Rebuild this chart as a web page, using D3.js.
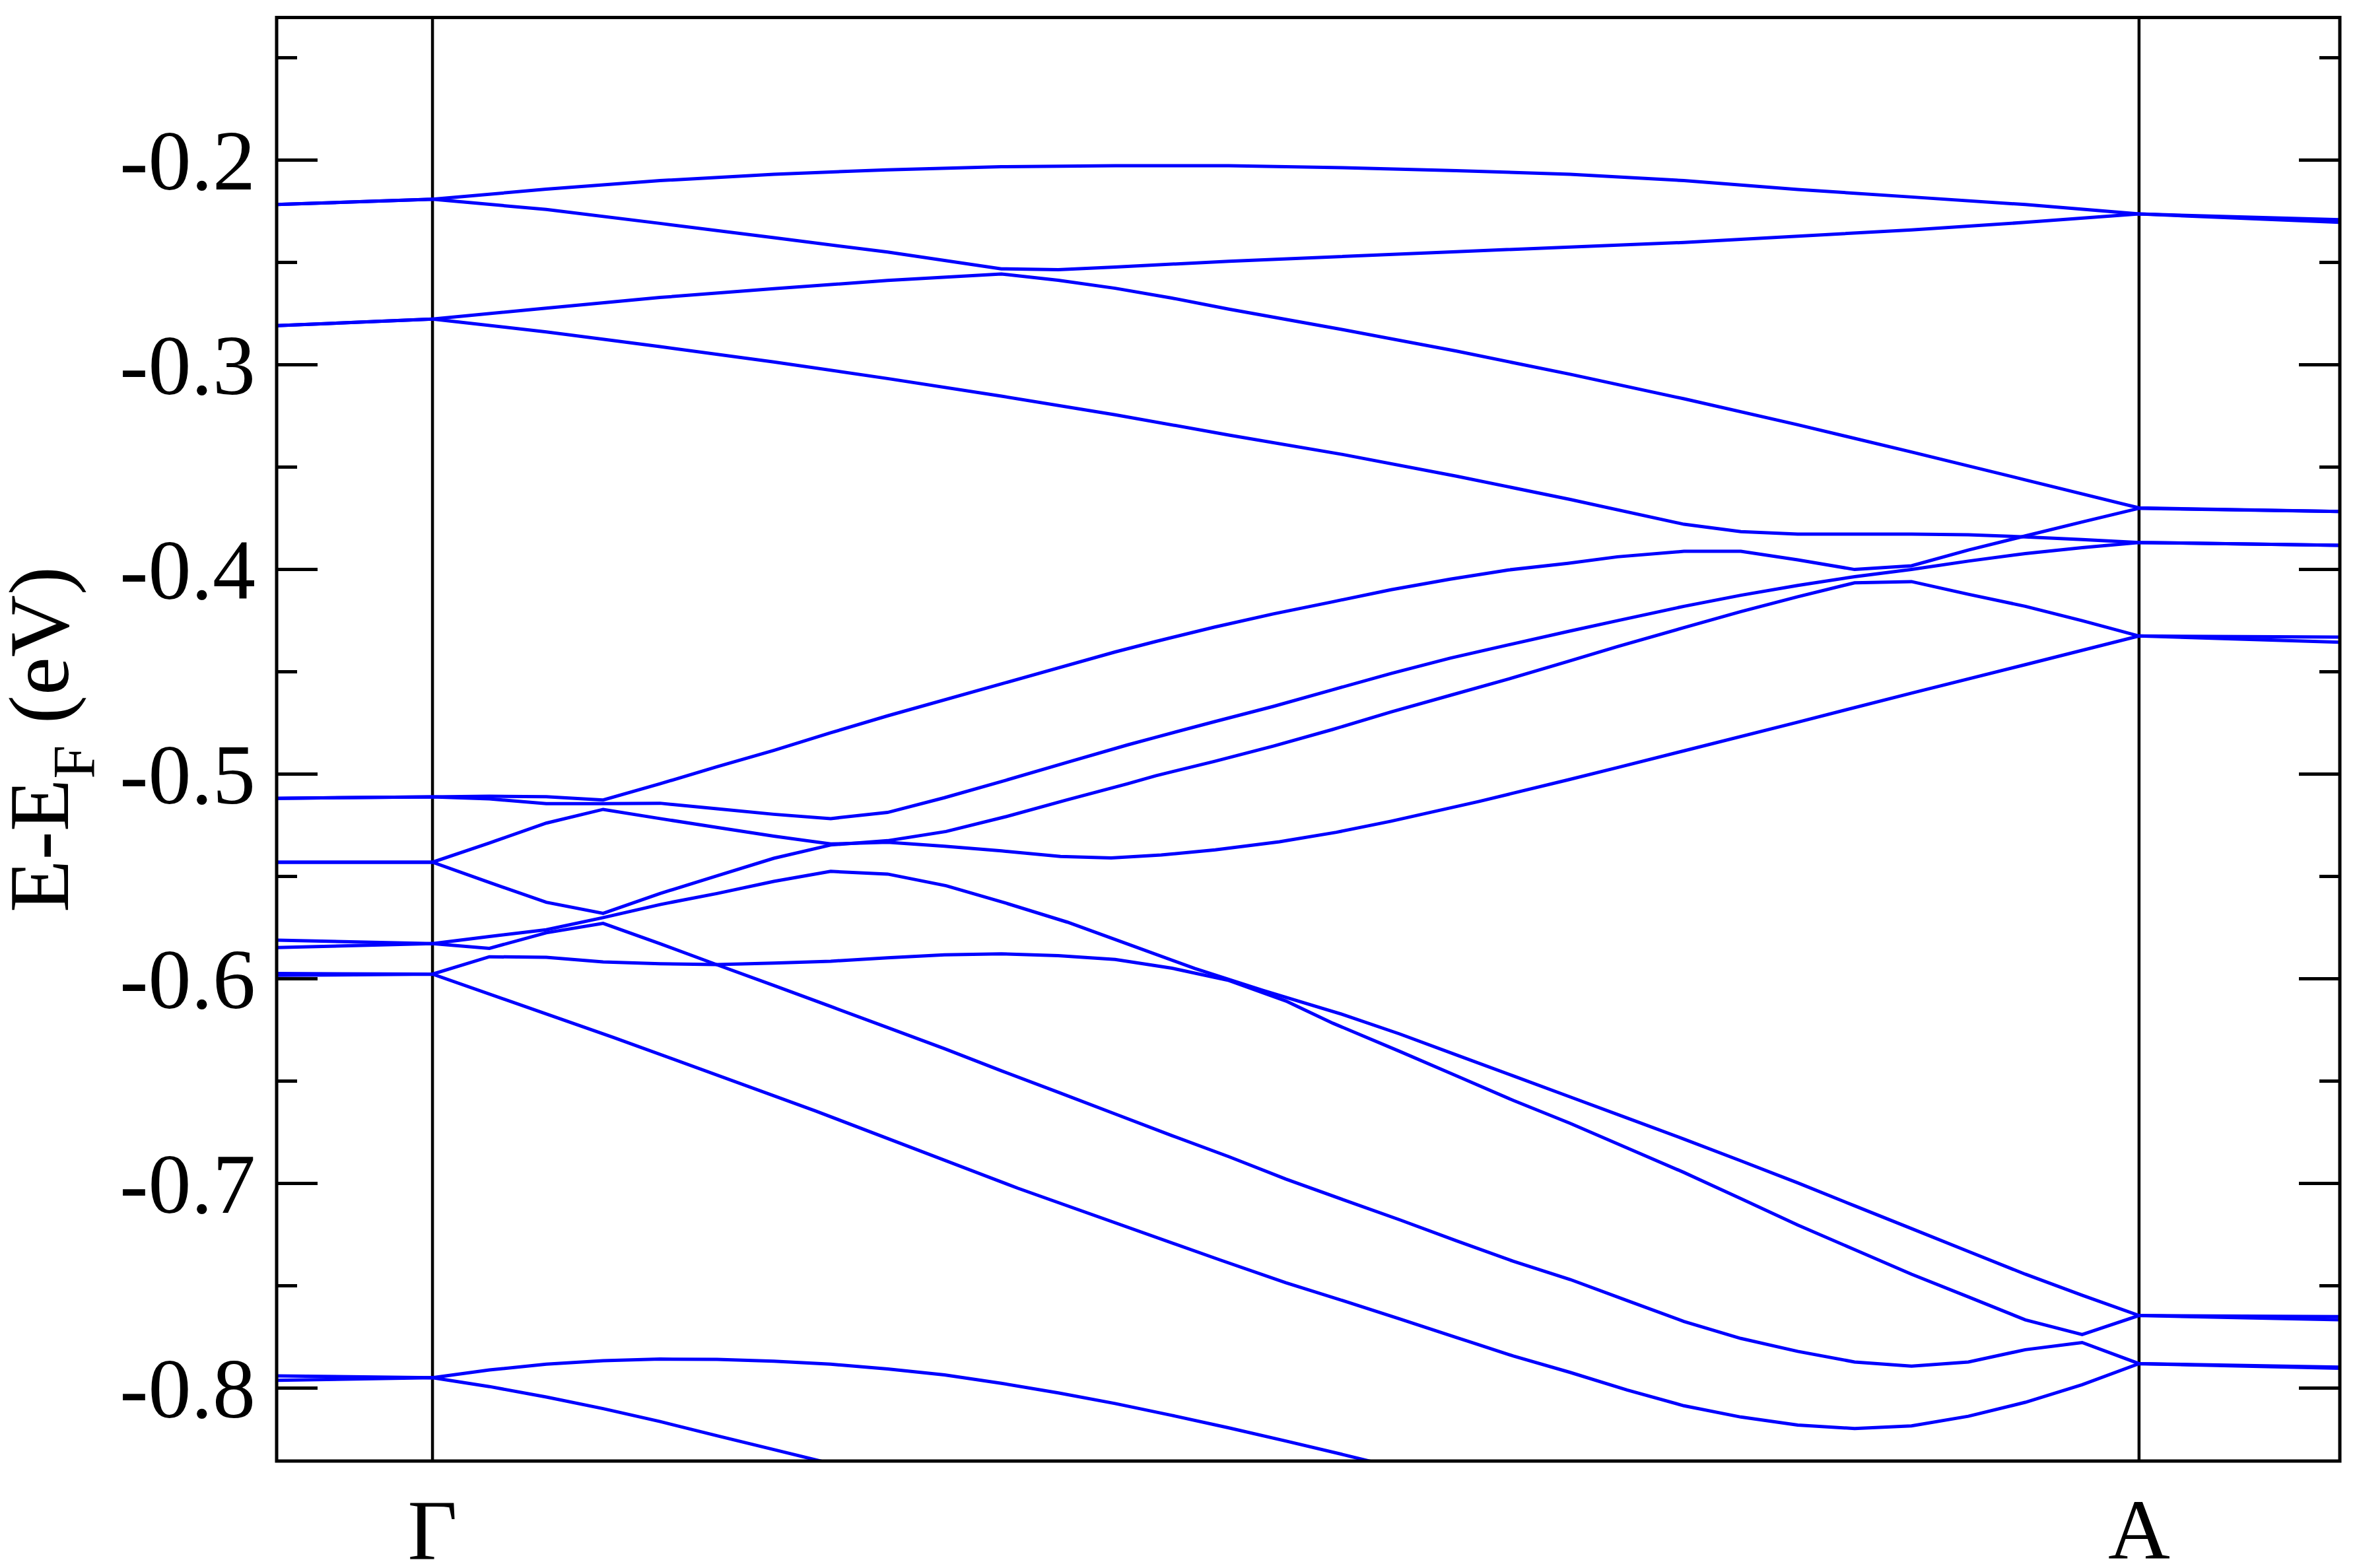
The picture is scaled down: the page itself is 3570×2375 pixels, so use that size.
<!DOCTYPE html>
<html>
<head>
<meta charset="utf-8">
<script src="https://cdn.jsdelivr.net/npm/d3@7"></script>
<style>
  html, body { margin: 0; padding: 0; background: #fff; }
  svg { display: block; }
</style>
</head>
<body>
<div id="chart"></div>
<script>
// k path: Gamma at k = 0, A at k = 30 (31 points along Gamma-A)
const kRange = [-2.74, 33.53];
const eRange = [-0.8358, -0.1305];
const kPoints = [0, 30];
const kLabels = ["\u0393", "A"];
const yMajor = [-0.8, -0.7, -0.6, -0.5, -0.4, -0.3, -0.2];
const yMinor = [-0.75, -0.65, -0.55, -0.45, -0.35, -0.25, -0.15];

// bands, [k, E-EF]
const bandT1 = [[-2.74,-0.2219],[0,-0.2193],[2,-0.2144],[4,-0.2102],[6,-0.2071],[8,-0.2049],[10,-0.2034],[12,-0.2029],[14,-0.2029],[16,-0.2039],[18,-0.2053],[20,-0.2071],[22,-0.2102],[24,-0.2145],[26,-0.2182],[28,-0.2219],[30,-0.2265],[33.53,-0.2293]];
const bandT2 = [[-2.74,-0.2219],[0,-0.2193],[2,-0.2243],[4,-0.2311],[6,-0.2381],[8,-0.2451],[10,-0.2533],[11,-0.2537],[12,-0.2524],[14,-0.2496],[18,-0.2449],[22,-0.2404],[26,-0.2343],[28,-0.2306],[30,-0.2265],[33.53,-0.2306]];
const bandT3 = [[-2.74,-0.2811],[0,-0.2778],[2,-0.2725],[4,-0.2673],[6,-0.2630],[8,-0.2590],[10,-0.2558],[11,-0.2589],[12,-0.2628],[13,-0.2676],[14,-0.2730],[16,-0.2830],[18,-0.2935],[20,-0.3048],[22,-0.3168],[24,-0.3295],[26,-0.3428],[28,-0.3564],[30,-0.3701],[33.53,-0.3719]];
const bandT4 = [[-2.74,-0.2811],[0,-0.2778],[2,-0.2841],[4,-0.2913],[6,-0.2988],[8,-0.3069],[10,-0.3155],[12,-0.3246],[14,-0.3345],[16,-0.3440],[18,-0.3546],[20,-0.3660],[22,-0.3781],[23,-0.3817],[24,-0.3829],[26,-0.3829],[27,-0.3832],[28,-0.3843],[29,-0.3856],[30,-0.3870],[33.53,-0.3884]];
const bandP = [[-2.74,-0.5120],[0,-0.5113],[1,-0.5110],[2,-0.5112],[3,-0.5128],[4,-0.5049],[5,-0.4966],[6,-0.4886],[7,-0.4800],[8,-0.4717],[10,-0.4561],[12,-0.4405],[12.71,-0.4354],[13.74,-0.4284],[14.78,-0.4219],[15.82,-0.4160],[16.85,-0.4101],[17.89,-0.4049],[18.92,-0.4004],[19.96,-0.3972],[20.83,-0.3940],[22,-0.3913],[23,-0.3913],[24,-0.3955],[25,-0.4002],[26,-0.3984],[27,-0.3907],[28,-0.3838],[29,-0.3770],[30,-0.3703],[33.53,-0.3719]];
const bandQ = [[-2.74,-0.5120],[0,-0.5113],[1,-0.5123],[2,-0.5146],[3,-0.5146],[4,-0.5144],[5,-0.5171],[6,-0.5198],[7,-0.5219],[8,-0.5189],[9,-0.5117],[10.09,-0.5031],[11.15,-0.4945],[12.22,-0.4859],[12.71,-0.4822],[13.74,-0.4746],[14.78,-0.4671],[15.82,-0.4590],[16.85,-0.4510],[17.89,-0.4435],[18.92,-0.4370],[19.96,-0.4305],[20.83,-0.4252],[22,-0.4182],[23,-0.4128],[24,-0.4080],[25,-0.4037],[26,-0.4002],[27,-0.3961],[28,-0.3924],[29,-0.3895],[30,-0.3870],[33.53,-0.3884]];
const bandR = [[-2.74,-0.5432],[0,-0.5432],[1,-0.5531],[2,-0.5628],[3,-0.5682],[4,-0.5585],[5,-0.5499],[6,-0.5413],[7,-0.5348],[8,-0.5327],[9.03,-0.5282],[10.09,-0.5209],[11.15,-0.5128],[12.22,-0.5049],[12.71,-0.5010],[13.74,-0.4940],[14.78,-0.4865],[15.82,-0.4784],[16.85,-0.4698],[17.89,-0.4617],[18.92,-0.4537],[19.96,-0.4451],[20.83,-0.4379],[22,-0.4286],[23,-0.4208],[24,-0.4135],[25,-0.4067],[26,-0.4061],[27,-0.4123],[28,-0.4182],[29,-0.4252],[30,-0.4327],[33.53,-0.4357]];
const bandC = [[-2.74,-0.5432],[0,-0.5432],[1,-0.5338],[2,-0.5241],[3,-0.5174],[4,-0.5219],[5,-0.5262],[6,-0.5305],[7,-0.5343],[8,-0.5335],[9,-0.5354],[10,-0.5377],[11.04,-0.5404],[11.93,-0.5411],[12.81,-0.5397],[13.76,-0.5372],[14.89,-0.5332],[15.89,-0.5286],[16.85,-0.5232],[18.4,-0.5135],[19.96,-0.5030],[20.83,-0.4970],[22,-0.4888],[24,-0.4748],[26,-0.4606],[28,-0.4467],[30,-0.4327],[33.53,-0.4332]];
const bandD1 = [[-2.74,-0.5813],[0,-0.5830],[1,-0.5795],[2,-0.5762],[3,-0.5703],[4,-0.5639],[5,-0.5585],[6,-0.5526],[7,-0.5477],[8,-0.5490],[9.03,-0.5547],[10.09,-0.5633],[11.16,-0.5725],[12.22,-0.5832],[13.4,-0.5951],[14.59,-0.6058],[16,-0.6176],[17,-0.6271],[18,-0.6374],[19,-0.6476],[20,-0.6579],[21,-0.6682],[22,-0.6785],[23,-0.6891],[24,-0.6999],[25,-0.7111],[26,-0.7222],[27,-0.7334],[28,-0.7445],[29,-0.7548],[30,-0.7647],[33.53,-0.7652]];
const bandD2 = [[-2.74,-0.5849],[0,-0.5830],[1,-0.5853],[2,-0.5777],[3,-0.5731],[4,-0.5830],[5,-0.5933],[6,-0.6034],[7,-0.6137],[8,-0.6240],[9,-0.6343],[10,-0.6451],[11,-0.6556],[12,-0.6662],[13,-0.6768],[14,-0.6871],[15,-0.6980],[16,-0.7080],[17,-0.7179],[18,-0.7282],[19,-0.7382],[20,-0.7471],[21,-0.7574],[22,-0.7676],[23,-0.7759],[24,-0.7822],[25,-0.7874],[26,-0.7894],[27,-0.7874],[28,-0.7814],[29,-0.7779],[30,-0.7882],[33.53,-0.7899]];
const bandF1 = [[-2.74,-0.5976],[0,-0.5979],[1,-0.5894],[2,-0.5897],[3,-0.5919],[4,-0.5928],[5,-0.5932],[6,-0.5925],[7,-0.5916],[8,-0.5899],[9,-0.5885],[10,-0.5880],[11,-0.5889],[12,-0.5907],[13,-0.5950],[14,-0.6010],[15,-0.6110],[15.83,-0.6219],[17,-0.6356],[18,-0.6476],[19,-0.6596],[20,-0.6708],[21,-0.6828],[22,-0.6948],[23,-0.7076],[24,-0.7205],[25,-0.7325],[26,-0.7445],[27,-0.7556],[28,-0.7668],[29,-0.7740],[30,-0.7647],[33.53,-0.7668]];
const bandF2 = [[-2.74,-0.5985],[0,-0.5979],[3.18,-0.6288],[6.73,-0.6647],[10.29,-0.7025],[13.84,-0.7375],[15,-0.7487],[16,-0.7574],[17,-0.7663],[18,-0.7754],[19,-0.7845],[20,-0.7925],[21,-0.8011],[22,-0.8088],[23,-0.8143],[24,-0.8182],[25,-0.8199],[26,-0.8186],[27,-0.8139],[28,-0.8071],[29,-0.7985],[30,-0.7882],[33.53,-0.7905]];
const bandG1 = [[-2.74,-0.7942],[0,-0.7951],[1,-0.7913],[2,-0.7885],[3,-0.7868],[4,-0.7860],[5,-0.7861],[6,-0.7870],[7,-0.7885],[8,-0.7908],[9,-0.7937],[10,-0.7978],[11,-0.8025],[12,-0.8077],[13,-0.8135],[14,-0.8196],[15,-0.8260],[16,-0.8326],[17,-0.8394]];
const bandG2 = [[-2.74,-0.7964],[0,-0.7951],[1,-0.7994],[2,-0.8045],[3,-0.8102],[4,-0.8165],[5,-0.8234],[6,-0.8302],[7,-0.8370]];

const bands = [bandT1, bandT2, bandT3, bandT4, bandP, bandQ, bandR, bandC,
               bandD1, bandD2, bandF1, bandF2, bandG1, bandG2];

const W = 3570, H = 2375;
const plotL = 419, plotR = 3544, plotT = 26.5, plotB = 2213;

const svg = d3.select("#chart").append("svg")
    .attr("width", W)
    .attr("height", H)
    .style("background", "#fff");

const x = d3.scaleLinear().domain(kRange).range([plotL, plotR]);
const y = d3.scaleLinear().domain(eRange).range([plotB, plotT]);

svg.append("defs").append("clipPath").attr("id", "plot-clip")
    .append("rect")
    .attr("x", plotL).attr("y", plotT)
    .attr("width", plotR - plotL).attr("height", plotB - plotT);

// high-symmetry lines
svg.append("g")
    .selectAll("line")
    .data(kPoints)
    .enter().append("line")
    .attr("x1", d => x(d)).attr("x2", d => x(d))
    .attr("y1", plotT).attr("y2", plotB)
    .attr("stroke", "black")
    .attr("stroke-width", 4.5);

// bands
const line = d3.line()
    .x(d => x(d[0]))
    .y(d => y(d[1]));

svg.append("g")
    .attr("clip-path", "url(#plot-clip)")
    .selectAll("path")
    .data(bands)
    .enter().append("path")
    .attr("d", line)
    .attr("fill", "none")
    .attr("stroke", "#0000ff")
    .attr("stroke-width", 5)
    .attr("stroke-linejoin", "miter");

// axes, ticks pointing inward
const font = "'Liberation Serif', 'Times New Roman', serif";

const yAxis = svg.append("g")
    .attr("transform", "translate(" + plotL + ",0)")
    .call(d3.axisLeft(y).tickValues(yMajor).tickSize(-62).tickPadding(32)
        .tickFormat(d => d.toFixed(1)));
yAxis.append("g")
    .call(d3.axisLeft(y).tickValues(yMinor).tickSize(-31).tickFormat(""));

const yAxisR = svg.append("g")
    .attr("transform", "translate(" + plotR + ",0)")
    .call(d3.axisRight(y).tickValues(yMajor).tickSize(-62).tickFormat(""));
yAxisR.append("g")
    .call(d3.axisRight(y).tickValues(yMinor).tickSize(-31).tickFormat(""));

svg.selectAll(".domain").remove();
svg.selectAll(".tick line")
    .attr("stroke", "black")
    .attr("stroke-width", 5);
yAxis.selectAll(".tick text")
    .attr("font-family", font)
    .attr("font-size", 130)
    .attr("fill", "black")
    .attr("dy", "0.34em");

// k labels
svg.append("g")
    .selectAll("text")
    .data(kPoints)
    .enter().append("text")
    .attr("x", d => x(d))
    .attr("y", 2361)
    .attr("text-anchor", "middle")
    .attr("font-family", font)
    .attr("font-size", 130)
    .text((d, i) => kLabels[i]);

// y title
const title = svg.append("text")
    .attr("transform", "translate(103,1120) rotate(-90)")
    .attr("text-anchor", "middle")
    .attr("font-family", font)
    .attr("font-size", 130);
title.append("tspan").text("E-E");
title.append("tspan").attr("font-size", 92).attr("dy", 40).text("F");
title.append("tspan").attr("dy", -40).text(" (eV)");

// frame
svg.append("rect")
    .attr("x", plotL).attr("y", plotT)
    .attr("width", plotR - plotL).attr("height", plotB - plotT)
    .attr("fill", "none")
    .attr("stroke", "black")
    .attr("stroke-width", 5);
</script>
</body>
</html>
